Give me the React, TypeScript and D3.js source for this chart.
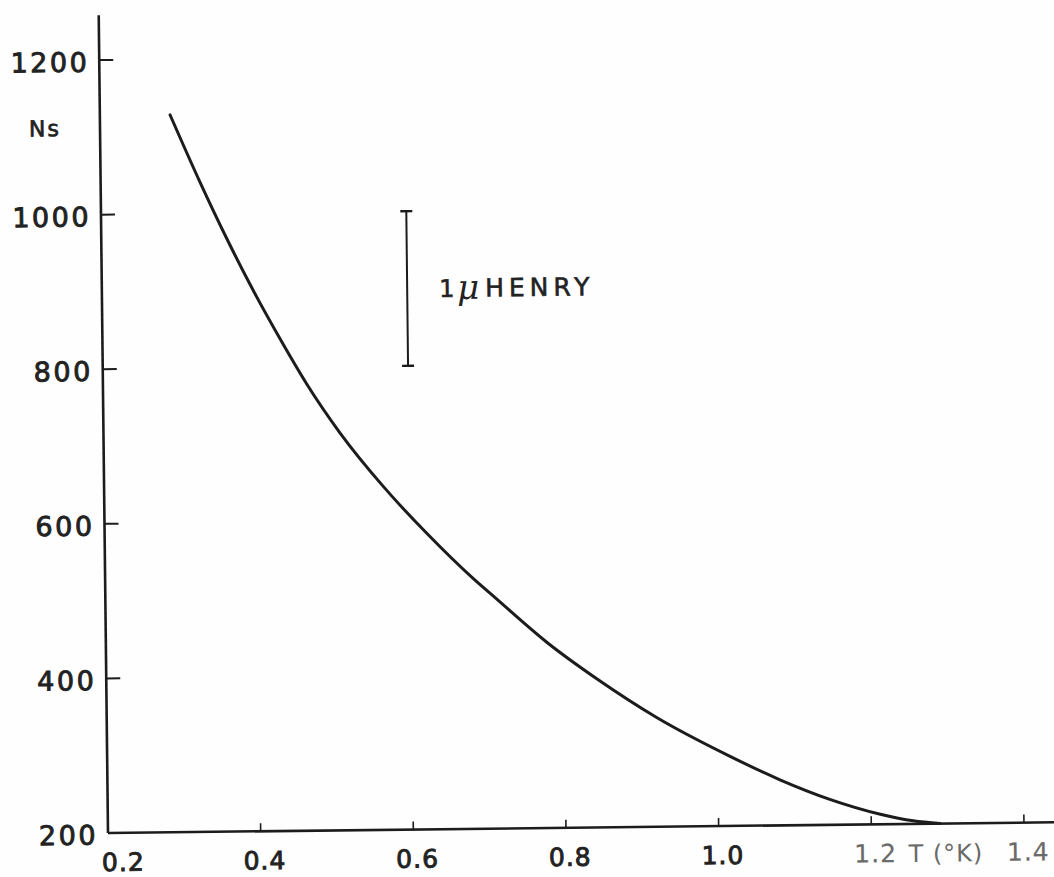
import React from "react";
import * as d3 from "d3";

// Temperature (°K) and Ns values
const temps = [0.292, 0.330, 0.365, 0.394, 0.436, 0.467, 0.510, 0.566, 0.622, 0.682, 0.708, 0.778, 0.843, 0.921, 1.016, 1.081, 1.146, 1.212, 1.255, 1.29];
const nsValues = [1128, 1041, 966, 908, 831, 778, 714, 644, 583, 524, 501, 440, 392, 341, 290, 259, 233, 213, 204, 200];

const xTicks = [0.2, 0.4, 0.6, 0.8, 1.0, 1.2, 1.4];
const xTickLabels = ["0.2", "0.4", "0.6", "0.8", "1.0", "1.2", "1.4"];
const yTicks = [200, 400, 600, 800, 1000, 1200];
const yTickLabels = ["200", "400", "600", "800", "1000", "1200"];

// scale bar: 1 µHENRY
const barT = 0.6;
const barRange = [800, 1000];

const W = 1054;
const H = 877;

export default function App() {
  const x = d3.scaleLinear().domain([0.2, 1.4]).range([108, 1024]);
  const y = d3.scaleLinear().domain([200, 1200]).range([833, 60]);

  const pts: [number, number][] = temps.map((t, i) => [t, nsValues[i]]);
  const line = d3
    .line<[number, number]>()
    .x((d) => x(d[0]))
    .y((d) => y(d[1]))
    .curve(d3.curveMonotoneX);

  const ink = "#1c1c1c";
  const font = "'DejaVu Sans', sans-serif";
  const x0 = x(0.2);
  const y0 = y(200);

  return (
    <svg
      width={W}
      height={H}
      viewBox={`0 0 ${W} ${H}`}
      style={{ position: "absolute", left: 0, top: 0, background: "#fff" }}
    >
      <rect x={0} y={0} width={W} height={H} fill="#fefefe" />
      <g transform={`rotate(-0.65 ${x0} ${y0})`}>
        {/* axes */}
        <line x1={x0} y1={y(1258)} x2={x0} y2={y0} stroke={ink} strokeWidth={2.6} />
        <line x1={x0} y1={y0} x2={x(1.47)} y2={y0} stroke={ink} strokeWidth={2.6} />

        {/* y ticks */}
        {yTicks.map((v, i) => (
          <g key={"yt" + v}>
            {v !== 200 && (
              <line x1={x0} x2={x0 + 14} y1={y(v)} y2={y(v)} stroke={ink} strokeWidth={2} />
            )}
            <text
              x={x0 - 10}
              y={y(v) + 4}
              textAnchor="end"
              dominantBaseline="middle"
              fontFamily={font}
              fontSize={27}
              letterSpacing={2.5}
              fill="#222"
              stroke="#222"
              strokeWidth={0.9}
            >
              {yTickLabels[i]}
            </text>
          </g>
        ))}

        {/* y title */}
        <text
          x={53}
          y={y(1110)}
          textAnchor="middle"
          dominantBaseline="middle"
          fontFamily={font}
          fontSize={22}
          letterSpacing={2}
          fill="#222"
          stroke="#222"
          strokeWidth={0.7}
        >
          Ns
        </text>

        {/* x ticks */}
        {xTicks.map((v, i) => {
          const faded = v >= 1.2;
          const lx = v === 0.2 ? x(v) + 15 : x(v) + 4;
          return (
            <g key={"xt" + v}>
              {v !== 0.2 && (
                <line x1={x(v)} x2={x(v)} y1={y0} y2={y0 - 8} stroke={ink} strokeWidth={1.6} />
              )}
              <text
                x={lx}
                y={y0 + 31}
                textAnchor="middle"
                dominantBaseline="middle"
                fontFamily={font}
                fontSize={25}
                letterSpacing={1}
                fill={faded ? "#6a6a6a" : "#222"}
                stroke={faded ? "#6a6a6a" : "#222"}
                strokeWidth={faded ? 0.2 : 0.9}
              >
                {xTickLabels[i]}
              </text>
            </g>
          );
        })}

        {/* x title */}
        <text
          x={x(1.3) - 2}
          y={y0 + 31}
          textAnchor="middle"
          dominantBaseline="middle"
          fontFamily={font}
          fontSize={24}
          letterSpacing={1}
          fill="#6a6a6a"
        >
          T (°K)
        </text>

        {/* curve */}
        <path d={line(pts) || ""} fill="none" stroke={ink} strokeWidth={3} strokeLinejoin="round" strokeLinecap="round" />

        {/* scale bar */}
        <line x1={x(barT)} x2={x(barT)} y1={y(barRange[0])} y2={y(barRange[1])} stroke={ink} strokeWidth={2} />
        {barRange.map((v) => (
          <line key={"cap" + v} x1={x(barT) - 6} x2={x(barT) + 6} y1={y(v)} y2={y(v)} stroke={ink} strokeWidth={2.4} />
        ))}
        <text
          x={x(barT) + 32}
          y={y(900) + 2}
          dominantBaseline="middle"
          fontFamily={font}
          fontSize={24}
          fill="#222"
          stroke="#222"
          strokeWidth={0.6}
        >
          1
        </text>
        <text
          x={x(barT) + 50}
          y={y(900) + 2}
          dominantBaseline="middle"
          fontFamily="'DejaVu Serif', serif"
          fontStyle="italic"
          fontSize={34}
          fill="#222"
        >
          μ
        </text>
        <text
          x={x(barT) + 78}
          y={y(900) + 2}
          dominantBaseline="middle"
          fontFamily={font}
          fontSize={25}
          letterSpacing={5}
          fill="#222"
          stroke="#222"
          strokeWidth={0.6}
        >
          HENRY
        </text>
      </g>
    </svg>
  );
}
